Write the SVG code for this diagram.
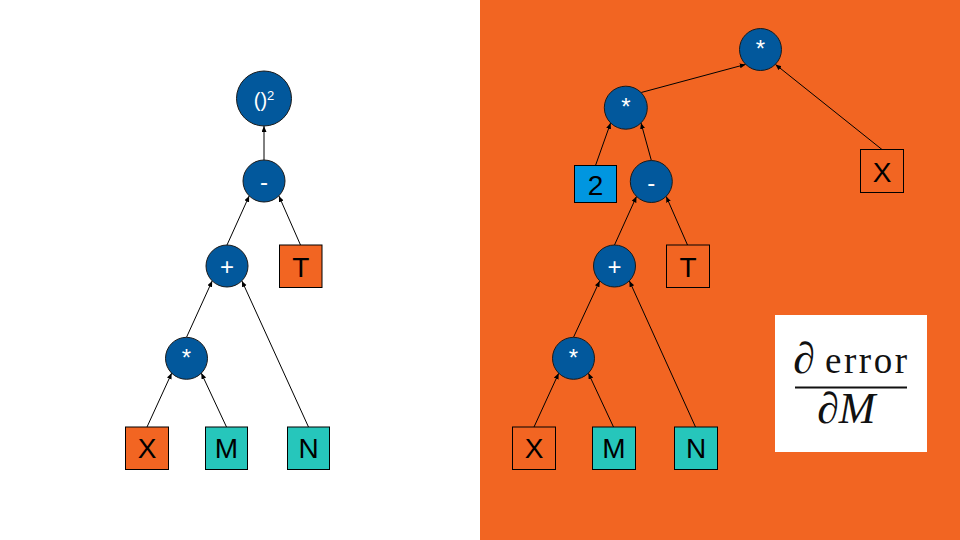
<svg xmlns="http://www.w3.org/2000/svg" width="960" height="540" viewBox="0 0 960 540">
<defs>
<marker id="ah" markerUnits="userSpaceOnUse" markerWidth="7" markerHeight="6" refX="6" refY="2.5" orient="auto">
<path d="M0,0 L6,2.5 L0,5 z" fill="#000"/>
</marker>
<style>
.op{fill:#02589c;stroke:#1a1a1a;stroke-width:1}
.opt{fill:#fff;font-family:"Liberation Sans",Arial,sans-serif;font-size:24px;text-anchor:middle}
.bx{stroke:#000;stroke-width:1}
.bt{fill:#000;font-family:"Liberation Sans",Arial,sans-serif;font-size:28px;text-anchor:middle}
.teal{fill:#26c6bb}
.org{fill:#f26522}
.clr{fill:none}
.blue{fill:#0096e0}
.cn line{stroke:#000;stroke-width:1;marker-end:url(#ah)}
.mth{font-family:"Liberation Serif","Times New Roman",serif;fill:#111}
</style>
</defs>
<rect x="0" y="0" width="960" height="540" fill="#fff"/>
<rect x="480" y="0" width="480" height="540" fill="#f26522"/>

<g id="connectors" class="cn">
<line x1="147" y1="427" x2="171.7" y2="373.1"/>
<line x1="226.5" y1="427" x2="201.3" y2="373.1"/>
<line x1="308.5" y1="427" x2="241.9" y2="280.9"/>
<line x1="186.5" y1="337.3" x2="212.2" y2="280.9"/>
<line x1="227" y1="245" x2="249.2" y2="195.9"/>
<line x1="300.5" y1="245" x2="278.9" y2="195.9"/>
<line x1="264" y1="160" x2="264" y2="126"/>

<line x1="534" y1="427" x2="558.7" y2="373.2"/>
<line x1="613.5" y1="427" x2="588.4" y2="373.2"/>
<line x1="695.5" y1="427" x2="629.4" y2="280.9"/>
<line x1="573.5" y1="337.3" x2="599.7" y2="280.9"/>
<line x1="614.5" y1="245" x2="636.5" y2="196.4"/>
<line x1="687.5" y1="245" x2="666.2" y2="196.4"/>
<line x1="595.5" y1="165.5" x2="610.6" y2="122.9"/>
<line x1="651.3" y1="160.3" x2="641" y2="122.9"/>
<line x1="641.2" y1="92.5" x2="745.7" y2="64.4"/>
<line x1="882" y1="149.5" x2="775.4" y2="64.4"/>
</g>

<!-- Left tree -->
<g id="L_sq"><circle class="op" cx="264" cy="98.5" r="27.5"/><text class="opt" x="264" y="107" style="font-size:20px">()<tspan style="font-size:13px" dy="-7">2</tspan></text></g>
<g id="L_minus"><circle class="op" cx="264" cy="181" r="21"/><text class="opt" x="264" y="190">-</text></g>
<g id="L_plus"><circle class="op" cx="227" cy="266" r="21"/><text class="opt" x="227" y="275">+</text></g>
<g id="L_T"><rect class="bx org" x="279.5" y="245" width="42.5" height="42.5"/><text class="bt" x="300.75" y="277">T</text></g>
<g id="L_star"><circle class="op" cx="186.5" cy="358.3" r="21"/><text class="opt" x="186.5" y="365.5">*</text></g>
<g id="L_X"><rect class="bx org" x="125.5" y="427" width="43" height="42.5"/><text class="bt" x="147" y="458">X</text></g>
<g id="L_M"><rect class="bx teal" x="205.5" y="427" width="42" height="42.5"/><text class="bt" x="226.5" y="458">M</text></g>
<g id="L_N"><rect class="bx teal" x="287.5" y="427" width="42" height="42.5"/><text class="bt" x="308.5" y="458">N</text></g>

<!-- Right tree -->
<g id="R_top"><circle class="op" cx="760.5" cy="49.5" r="21"/><text class="opt" x="760.5" y="56.5">*</text></g>
<g id="R_star2"><circle class="op" cx="625.8" cy="107.7" r="21.5"/><text class="opt" x="625.8" y="115">*</text></g>
<g id="R_two"><rect class="bx blue" x="574.5" y="165.5" width="42" height="37"/><text class="bt" x="595.5" y="195">2</text></g>
<g id="R_Xtop"><rect class="bx clr" x="860.5" y="149.5" width="43" height="43"/><text class="bt" x="882" y="182">X</text></g>
<g id="R_minus"><circle class="op" cx="651.3" cy="181.5" r="21"/><text class="opt" x="651.3" y="190.5">-</text></g>
<g id="R_plus"><circle class="op" cx="614.5" cy="266" r="21"/><text class="opt" x="614.5" y="275">+</text></g>
<g id="R_T"><rect class="bx clr" x="666.5" y="245" width="43" height="42.5"/><text class="bt" x="688" y="277">T</text></g>
<g id="R_star"><circle class="op" cx="573.5" cy="358.3" r="21"/><text class="opt" x="573.5" y="365.5">*</text></g>
<g id="R_X"><rect class="bx clr" x="512.5" y="427" width="43" height="42.5"/><text class="bt" x="534" y="458">X</text></g>
<g id="R_M"><rect class="bx teal" x="592.5" y="427" width="43" height="42.5"/><text class="bt" x="614" y="458">M</text></g>
<g id="R_N"><rect class="bx teal" x="674.5" y="427" width="43" height="42.5"/><text class="bt" x="696" y="458">N</text></g>

<!-- Formula -->
<g id="formula">
<rect x="775" y="315" width="152" height="137" fill="#fff"/>
<text class="mth" x="793" y="373" style="font-size:44px;font-style:italic">∂</text>
<text class="mth" x="825" y="373" style="font-size:37px" textLength="82" lengthAdjust="spacing">error</text>
<line x1="795" y1="387.5" x2="907" y2="387.5" stroke="#111" stroke-width="2"/>
<text class="mth" x="817" y="423" style="font-size:44px;font-style:italic">∂M</text>
</g>
</svg>
